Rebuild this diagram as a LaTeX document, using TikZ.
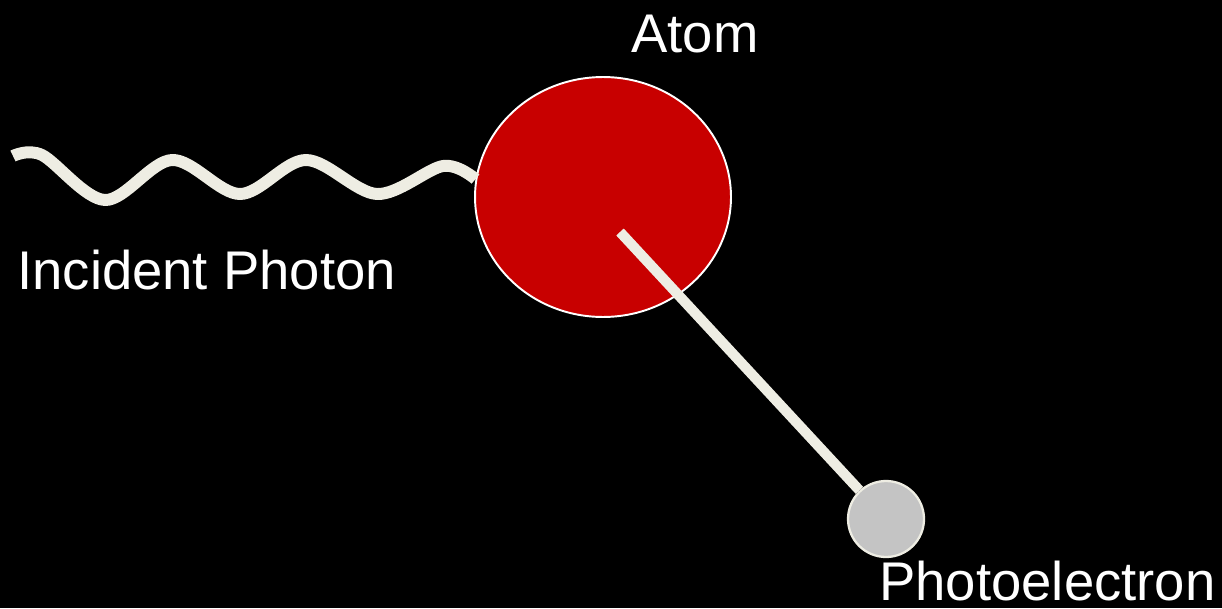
\documentclass[tikz,border=0pt]{standalone}
\usepackage{fontspec}
\setmainfont{Liberation Sans}
\usetikzlibrary{shapes.geometric,positioning}
\definecolor{cream}{HTML}{EEEDE3}
\definecolor{atomred}{HTML}{C80000}
\definecolor{elgray}{HTML}{C4C4C4}

\begin{document}
\begin{tikzpicture}[
  x=0.02cm, y=-0.02cm,
  every node/.style={font=\fontsize{31}{36}\selectfont, text=white},
  atom/.style={draw=white, line width=1.1pt, ellipse, fill=atomred, minimum width=5.12cm, minimum height=4.8cm, inner sep=0pt},
  electron/.style={draw=cream, line width=1.3pt, circle, fill=elgray, minimum size=1.52cm, inner sep=0pt},
  caption/.style={anchor=base west, inner sep=0pt},
  photon/.style={cream, line width=6.8pt, line cap=butt, line join=round},
  track/.style={cream, line width=5.8pt}
]
\fill[black] (0,0) rectangle (1222,608);
\useasboundingbox (0,0) rectangle (1222,608);

\node[atom] (atom) at (603,197) {};
\node[electron] (electron) at (886,519) {};
\coordinate (src) at (13,156);
\coordinate (hit) at (620,232);

% incoming wave
\draw[photon] plot[smooth, tension=0.55] coordinates
  {(src) (42,155) (105,200) (172,160) (240,194) (306,160) (377,194) (443,166) (atom.172)};

% outgoing electron
\draw[track] (hit) -- (electron);

\node[caption] (atomlbl) at (631,52) {Atom};
\node[caption] (photonlbl) at (17,289) {Incident Photon};
\node[caption] (electronlbl) at (879,600) {Photoelectron};
\end{tikzpicture}
\end{document}
